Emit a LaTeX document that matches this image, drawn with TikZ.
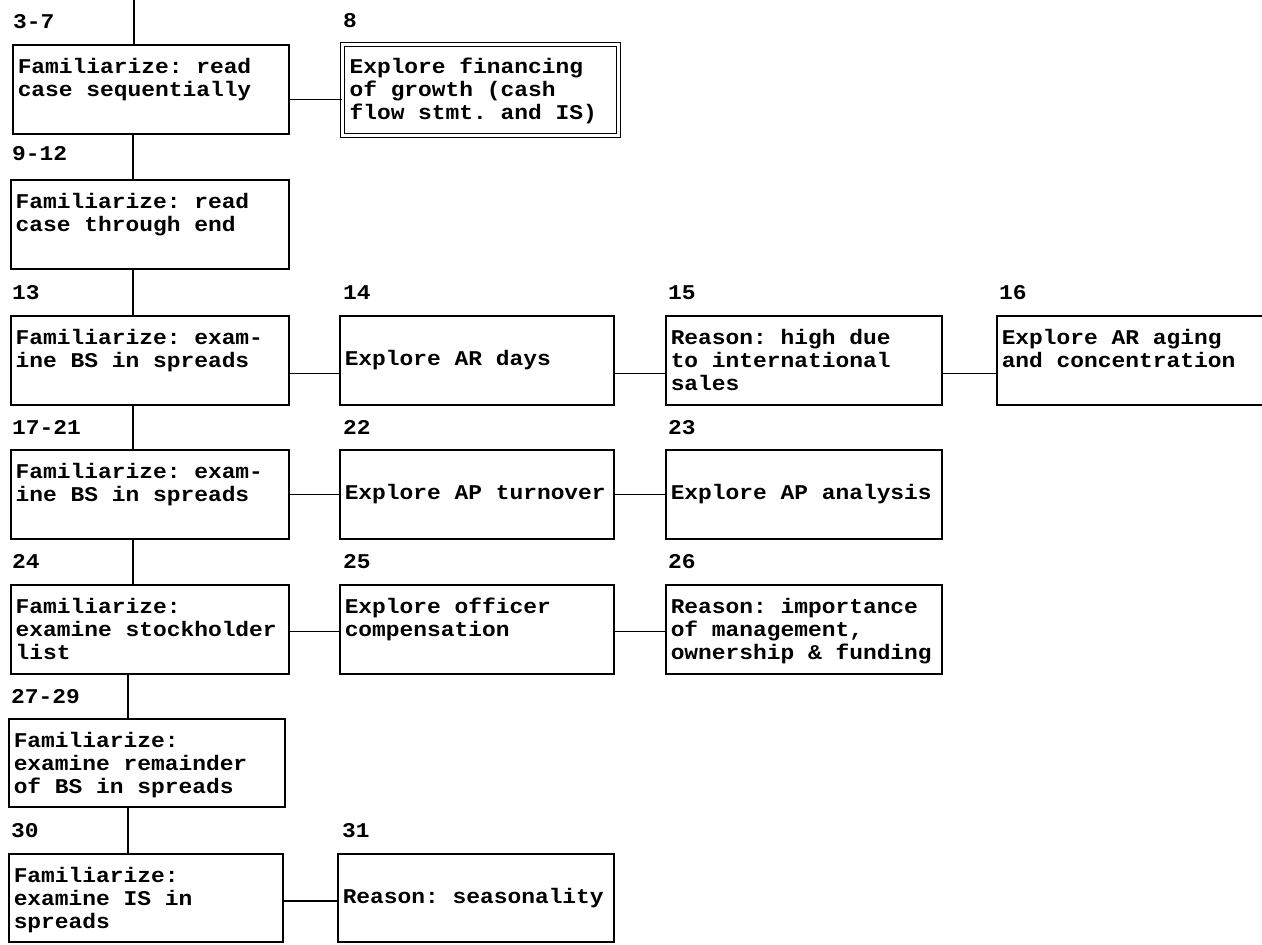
\documentclass[tikz,border=0pt]{standalone}
\usepackage{fontspec}
\newfontfamily\typewriter[FakeStretch=1.09, WordSpace={1,0,0}]{Liberation Mono}
\tikzset{
  stepbox/.style={draw, line width=1.5pt, rectangle, anchor=north west,
    inner xsep=5pt, inner ysep=0pt},
  link/.style={draw, line width=1.5pt},
  lbl/.style={anchor=base west, inner sep=0pt},
}
% first-line strut: puts the first baseline 29pt below the box top
\newcommand\topstrut{\rule{0pt}{29pt}}
% #1 name, #2 x, #3 y, #4 width, #5 height, #6 vertical placement (t/c), #7 text
\newcommand\flowbox[7]{%
  \node[stepbox] (#1) at (#2,#3)
    {\parbox[c][#5pt][#6]{\dimexpr#4pt-10pt\relax}{#7}};}
\begin{document}
\frenchspacing
\begin{tikzpicture}[x=1pt, y=-1pt,
  every node/.style={font=\typewriter\bfseries\fontsize{21}{23}\selectfont\frenchspacing}]
\useasboundingbox (0,0) rectangle (1262,945);
\clip (0,0) rectangle (1262,945);
\fill[white] (0,0) rectangle (1262,945);

% spine coordinates
\coordinate (top) at (134,0);
\coordinate (spinea) at (133,300);
\coordinate (spineb) at (128,700);

% column 1
\flowbox{b1}{12}{44}{276}{89}{t}{\topstrut Familiarize: read\\case sequentially}
\flowbox{b2}{10}{179}{278}{89}{t}{\topstrut Familiarize: read\\case through end}
\flowbox{b3}{10}{315}{278}{89}{t}{\topstrut Familiarize: exam-\\ine BS in spreads}
\flowbox{b4}{10}{449}{278}{89}{t}{\topstrut Familiarize: exam-\\ine BS in spreads}
\flowbox{b5}{10}{584}{278}{89}{t}{\topstrut Familiarize:\\examine stockholder\\list}
\flowbox{b6}{8}{718}{276}{88}{t}{\topstrut Familiarize:\\examine remainder\\of BS in spreads}
\flowbox{b7}{8}{853}{274}{88}{t}{\topstrut Familiarize:\\examine IS in\\spreads}

% side boxes
\node[stepbox, double, line width=1.1pt, double distance=2.4pt, inner xsep=7pt] (b8) at (342,44)
  {\parbox[c][91pt][t]{262pt}{\topstrut Explore financing\\of growth (cash\\flow stmt. and IS)}};
\flowbox{b14}{339}{315}{274}{89}{c}{Explore AR days}
\flowbox{b15}{665}{315}{276}{89}{t}{\topstrut Reason: high due\\to international\\sales}
\flowbox{b16}{996}{315}{276}{89}{t}{\topstrut Explore AR aging\\and concentration}
\flowbox{b22}{339}{449}{274}{89}{c}{Explore AP turnover}
\flowbox{b23}{665}{449}{276}{89}{c}{Explore AP analysis}
\flowbox{b25}{339}{584}{274}{89}{t}{\topstrut Explore officer\\compensation}
\flowbox{b26}{665}{584}{276}{89}{t}{\topstrut Reason: importance\\of management,\\ownership \& funding}
\flowbox{b31}{337}{853}{276}{88}{c}{Reason: seasonality}

% step numbers
\node[lbl] (n1)  at ([xshift=1pt,yshift=16pt]b1.north west) {3-7};
\node[lbl] (n8)  at ([xshift=1pt,yshift=17pt]b8.north west) {8};
\node[lbl] (n2)  at ([xshift=2pt,yshift=19pt]b2.north west) {9-12};
\node[lbl] (n3)  at ([xshift=2pt,yshift=16pt]b3.north west) {13};
\node[lbl] (n14) at ([xshift=4pt,yshift=16pt]b14.north west) {14};
\node[lbl] (n15) at ([xshift=3pt,yshift=16pt]b15.north west) {15};
\node[lbl] (n16) at ([xshift=3pt,yshift=16pt]b16.north west) {16};
\node[lbl] (n4)  at ([xshift=2pt,yshift=15pt]b4.north west) {17-21};
\node[lbl] (n22) at ([xshift=4pt,yshift=15pt]b22.north west) {22};
\node[lbl] (n23) at ([xshift=3pt,yshift=15pt]b23.north west) {23};
\node[lbl] (n5)  at ([xshift=2pt,yshift=16pt]b5.north west) {24};
\node[lbl] (n25) at ([xshift=4pt,yshift=16pt]b25.north west) {25};
\node[lbl] (n26) at ([xshift=3pt,yshift=16pt]b26.north west) {26};
\node[lbl] (n6)  at ([xshift=3pt,yshift=15pt]b6.north west) {27-29};
\node[lbl] (n7)  at ([xshift=3pt,yshift=16pt]b7.north west) {30};
\node[lbl] (n31) at ([xshift=5pt,yshift=16pt]b31.north west) {31};

% vertical spine
\draw[link] (top) -- (b1.north -| top);
\draw[link] (b1.south -| spinea) -- (b2.north -| spinea);
\draw[link] (b2.south -| spinea) -- (b3.north -| spinea);
\draw[link] (b3.south -| spinea) -- (b4.north -| spinea);
\draw[link] (b4.south -| spinea) -- (b5.north -| spinea);
\draw[link] (b5.south -| spineb) -- (b6.north -| spineb);
\draw[link] (b6.south -| spineb) -- (b7.north -| spineb);

% side branches
\draw[link] ([yshift=-10pt]b1.east) -- ([yshift=-10pt]b1.east -| b8.west);
\draw[link] ([yshift=-13pt]b3.east) -- ([yshift=-13pt]b3.east -| b14.west);
\draw[link] ([yshift=-13pt]b14.east) -- ([yshift=-13pt]b14.east -| b15.west);
\draw[link] ([yshift=-13pt]b15.east) -- ([yshift=-13pt]b15.east -| b16.west);
\draw[link] (b4.east) -- (b4.east -| b22.west);
\draw[link] (b22.east) -- (b22.east -| b23.west);
\draw[link] ([yshift=-2pt]b5.east) -- ([yshift=-2pt]b5.east -| b25.west);
\draw[link] ([yshift=-2pt]b25.east) -- ([yshift=-2pt]b25.east -| b26.west);
\draw[link] ([yshift=-3pt]b7.east) -- ([yshift=-3pt]b7.east -| b31.west);
\end{tikzpicture}
\end{document}
